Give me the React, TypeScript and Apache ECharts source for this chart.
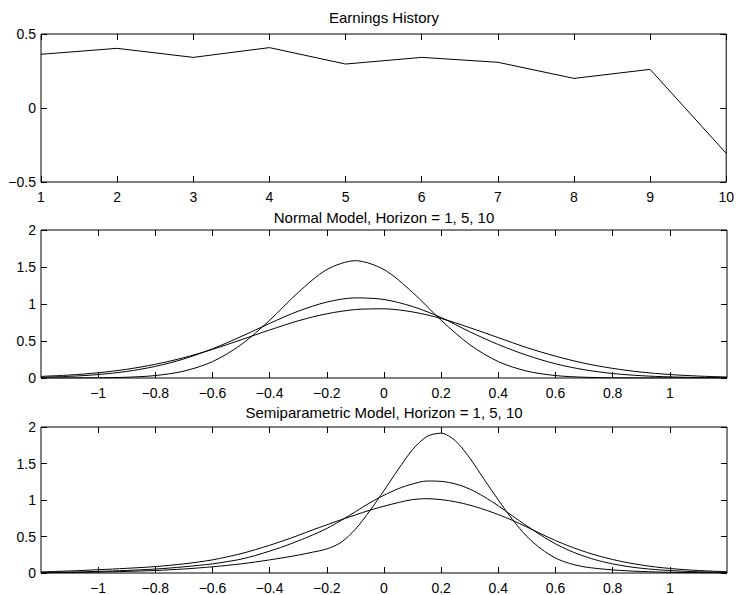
import React, { useEffect, useRef } from "react";
import * as echarts from "echarts";

// ---------- data ----------
const TITLES = [
  "Earnings History",
  "Normal Model, Horizon = 1, 5, 10",
  "Semiparametric Model, Horizon = 1, 5, 10",
];

const EARNINGS_PERIODS = [1, 2, 3, 4, 5, 6, 7, 8, 9, 10];
const EARNINGS = [0.363, 0.403, 0.342, 0.408, 0.297, 0.342, 0.309, 0.2, 0.261, -0.306];

const NORMAL_X = [
  -1.2, -1.1, -1.0, -0.9, -0.8, -0.7, -0.6, -0.5, -0.4, -0.3, -0.2, -0.1, 0,
  0.1, 0.2, 0.3, 0.4, 0.5, 0.6, 0.7, 0.8, 0.9, 1.0, 1.1, 1.2,
];
const NORMAL_H1 = [
  0.0001, 0.0006, 0.0027, 0.0103, 0.033, 0.093, 0.221, 0.45, 0.78, 1.157, 1.465, 1.585, 1.465,
  1.157, 0.78, 0.45, 0.221, 0.093, 0.033, 0.0103, 0.0027, 0.0006, 0.0001, 0, 0,
];
const NORMAL_H5 = [
  0.0102, 0.0226, 0.0464, 0.0886, 0.157, 0.258, 0.3945, 0.56, 0.738, 0.903, 1.026, 1.083, 1.061,
  0.966, 0.817, 0.625, 0.452, 0.307, 0.192, 0.112, 0.061, 0.031, 0.015, 0.0065, 0.0026,
];
const NORMAL_H10 = [
  0.0217, 0.0403, 0.0709, 0.1178, 0.185, 0.275, 0.387, 0.516, 0.649, 0.773, 0.868, 0.925, 0.935,
  0.893, 0.805, 0.68, 0.545, 0.41, 0.295, 0.2, 0.13, 0.08, 0.047, 0.026, 0.014,
];

const SEMI_X = [
  -1.2, -1.15, -1.1, -1.05, -1.0, -0.95, -0.9, -0.85, -0.8, -0.75, -0.7, -0.65, -0.6, -0.55,
  -0.5, -0.45, -0.4, -0.35, -0.3, -0.25, -0.2, -0.15, -0.1, -0.05, 0, 0.05, 0.1, 0.15, 0.2,
  0.25, 0.3, 0.35, 0.4, 0.45, 0.5, 0.55, 0.6, 0.65, 0.7, 0.75, 0.8, 0.85, 0.9, 0.95, 1.0,
  1.05, 1.1, 1.15, 1.2,
];
const SEMI_H1 = [
  0.004, 0.005, 0.007, 0.01, 0.013, 0.017, 0.022, 0.028, 0.034, 0.044, 0.055, 0.069, 0.085, 0.104,
  0.125, 0.151, 0.18, 0.211, 0.245, 0.285, 0.33, 0.42, 0.6, 0.85, 1.13, 1.42, 1.69, 1.87, 1.915,
  1.81, 1.575, 1.285, 1.0, 0.73, 0.5, 0.33, 0.205, 0.13, 0.085, 0.06, 0.043, 0.03, 0.021, 0.014, 0.01,
  0.007, 0.005, 0.003, 0.002,
];
const SEMI_H5 = [
  0.006, 0.009, 0.012, 0.016, 0.022, 0.028, 0.035, 0.044, 0.054, 0.068, 0.085, 0.104, 0.125, 0.155,
  0.19, 0.24, 0.3, 0.365, 0.44, 0.52, 0.61, 0.72, 0.84, 0.96, 1.065, 1.155, 1.22, 1.26, 1.255,
  1.22, 1.15, 1.045, 0.92, 0.78, 0.645, 0.515, 0.4, 0.305, 0.23, 0.17, 0.125, 0.09, 0.065, 0.047, 0.034,
  0.024, 0.017, 0.012, 0.008,
];
const SEMI_H10 = [
  0.015, 0.021, 0.028, 0.036, 0.045, 0.054, 0.064, 0.075, 0.088, 0.105, 0.125, 0.15, 0.18, 0.22,
  0.265, 0.32, 0.38, 0.445, 0.515, 0.59, 0.66, 0.73, 0.795, 0.86, 0.915, 0.965, 1.005, 1.018, 1.005,
  0.975, 0.93, 0.87, 0.8, 0.72, 0.63, 0.535, 0.445, 0.365, 0.295, 0.235, 0.185, 0.143, 0.11, 0.083, 0.062,
  0.046, 0.034, 0.025, 0.018,
];

const DENSITY_X_TICKS = [-1, -0.8, -0.6, -0.4, -0.2, 0, 0.2, 0.4, 0.6, 0.8, 1];

// ---------- helpers ----------
const FONT = "'Liberation Sans', Arial, Helvetica, sans-serif";
const FS = 14;
const TITLE_FS = 15;

const fmt = (v: number) => {
  const r = Math.round(v * 10) / 10;
  const s = String(Math.abs(r));
  return r < 0 ? "\u2212" + s : s;
};

const pairs = (xs: number[], ys: number[]) => xs.map((x, i) => [x, ys[i]]);

export default function App() {
  const ref = useRef<HTMLDivElement | null>(null);

  useEffect(() => {
    if (!ref.current) return;
    const chart = echarts.init(ref.current, undefined, { renderer: "svg" });

    const grids = [
      { left: 41, top: 34, width: 686, height: 148 },
      { left: 41, top: 230, width: 686, height: 148 },
      { left: 41, top: 427, width: 686, height: 147 },
    ].map((g) => ({ ...g, show: true, borderColor: "#000", borderWidth: 1, backgroundColor: "transparent", containLabel: false }));

    const xCfg = [
      { min: 1, max: 10, interval: 1 },
      { min: -1.2, max: 1.2, custom: DENSITY_X_TICKS },
      { min: -1.2, max: 1.2, custom: DENSITY_X_TICKS },
    ];
    const yCfg = [
      { min: -0.5, max: 0.5, interval: 0.5 },
      { min: 0, max: 2, interval: 0.5 },
      { min: 0, max: 2, interval: 0.5 },
    ];

    const xAxis: any[] = [];
    const yAxis: any[] = [];
    for (let i = 0; i < 3; i++) {
      const xc: any = xCfg[i];
      for (const pos of ["bottom", "top"]) {
        const ax: any = {
          type: "value",
          gridIndex: i,
          position: pos,
          min: xc.min,
          max: xc.max,
          splitLine: { show: false },
          axisLine: { show: false, onZero: false },
          axisTick: { show: true, inside: true, length: 6, lineStyle: { color: "#000", width: 1 } },
          axisLabel: {
            show: pos === "bottom",
            color: "#000",
            fontSize: FS,
            fontFamily: FONT,
            margin: 8,
            formatter: fmt,
            showMinLabel: true,
            showMaxLabel: true,
            hideOverlap: false,
          },
        };
        if (xc.interval) ax.interval = xc.interval;
        if (xc.custom) {
          ax.axisTick.customValues = xc.custom;
          ax.axisLabel.customValues = xc.custom;
        }
        xAxis.push(ax);
      }
      const yc = yCfg[i];
      for (const pos of ["left", "right"]) {
        yAxis.push({
          type: "value",
          gridIndex: i,
          position: pos,
          min: yc.min,
          max: yc.max,
          interval: yc.interval,
          splitLine: { show: false },
          axisLine: { show: false, onZero: false },
          axisTick: { show: true, inside: true, length: 6, lineStyle: { color: "#000", width: 1 } },
          axisLabel: {
            show: pos === "left",
            color: "#000",
            fontSize: FS,
            fontFamily: FONT,
            margin: 5,
            formatter: fmt,
            showMinLabel: true,
            showMaxLabel: true,
          },
        });
      }
    }

    const lineStyle = { color: "#000", width: 1 };
    const mk = (gi: number, data: number[][], smooth: boolean) => ({
      type: "line",
      xAxisIndex: gi * 2,
      yAxisIndex: gi * 2,
      data,
      symbol: "none",
      smooth: smooth ? 0.3 : false,
      lineStyle,
      itemStyle: { color: "#000" },
      clip: true,
      silent: true,
    });

    const series = [
      mk(0, pairs(EARNINGS_PERIODS, EARNINGS), false),
      mk(1, pairs(NORMAL_X, NORMAL_H1), true),
      mk(1, pairs(NORMAL_X, NORMAL_H5), true),
      mk(1, pairs(NORMAL_X, NORMAL_H10), true),
      mk(2, pairs(SEMI_X, SEMI_H1), true),
      mk(2, pairs(SEMI_X, SEMI_H5), true),
      mk(2, pairs(SEMI_X, SEMI_H10), true),
    ];

    const titleTops = [10, 210, 405];
    const title = TITLES.map((t, i) => ({
      text: t,
      left: 384,
      top: titleTops[i],
      textAlign: "center",
      padding: 0,
      textStyle: { fontSize: TITLE_FS, fontWeight: "normal", color: "#000", fontFamily: FONT },
    }));

    chart.setOption({
      animation: false,
      backgroundColor: "#fff",
      title,
      grid: grids,
      xAxis,
      yAxis,
      series,
    } as any);

    return () => chart.dispose();
  }, []);

  return (
    <div
      ref={ref}
      style={{ position: "absolute", left: 0, top: 0, width: 737, height: 595, background: "#fff" }}
    />
  );
}
